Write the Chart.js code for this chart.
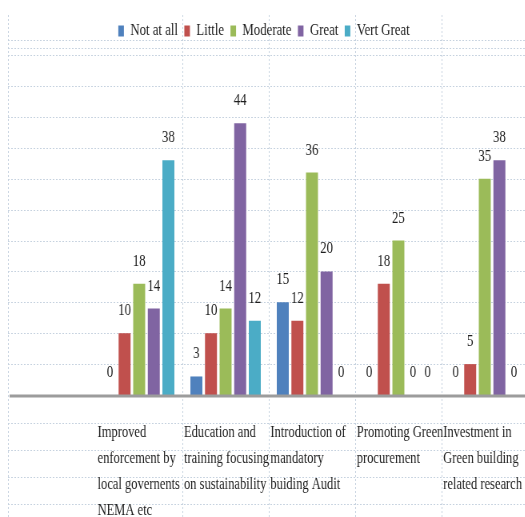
<!DOCTYPE html>
<html>
<head>
<meta charset="utf-8">
<title>Survey chart</title>
<script src="https://cdn.jsdelivr.net/npm/chart.js@4"></script>
<style>
  html, body { margin: 0; padding: 0; background: #fff; overflow: hidden; }
  #wrap { width: 525px; height: 517px; overflow: hidden; }
  /* the original picture is squeezed sideways, so draw it wide and squeeze it */
  #chart { transform: scaleX(0.8); transform-origin: 0 0; }
</style>
</head>
<body>
<div id="wrap"><canvas id="chart" width="660" height="517"></canvas></div>
<script>
// categories (multi-line, as in the source)
const categories = [
  ['Improved', 'enforcement by', 'local governents', 'NEMA etc'],
  ['Education and', 'training focusing', 'on sustainability'],
  ['Introduction of', 'mandatory', 'buiding Audit'],
  ['Promoting Green', 'procurement'],
  ['Investment in', 'Green building', 'related research']
];
const seriesNames = ['Not at all', 'Little', 'Moderate', 'Great', 'Vert Great'];
const notAtAll  = [0, 3, 15, 0, 0];
const little    = [10, 10, 12, 18, 5];
const moderate  = [18, 14, 36, 25, 35];
const great     = [14, 44, 20, 0, 38];
const vertGreat = [38, 12, 0, 0, 0];
const colors = ['#4F81BD', '#C0504D', '#9BBB59', '#8064A2', '#4BACC6'];
const yMax = 56;

const FONT = '"Liberation Serif", "Times New Roman", serif';
Chart.defaults.font.family = FONT;

function line(ctx, x1, y1, x2, y2) {
  ctx.beginPath();
  ctx.moveTo(x1, y1);
  ctx.lineTo(x2, y2);
  ctx.stroke();
}

// faint table rules behind the bars, axis line + labels on top
const tableLines = {
  id: 'tableLines',
  beforeDatasetsDraw(chart) {
    const { ctx, width, height, legend, scales: { x, y } } = chart;
    const y0 = y.getPixelForValue(0);
    ctx.save();
    ctx.strokeStyle = '#c6d2df';
    ctx.lineWidth = 1;
    ctx.setLineDash([2, 2]);
    for (let v = 5; v <= yMax; v += 5) {
      const py = Math.round(y.getPixelForValue(v)) + 0.5;
      line(ctx, 10, py, width, py);
    }
    // rules through the legend row
    line(ctx, 10, legend.bottom - 8.5, width, legend.bottom - 8.5);
    line(ctx, 10, legend.bottom - 0.5, width, legend.bottom - 0.5);
    // rules between the label rows
    for (let k = 0; k < 4; k++) {
      const py = Math.round(y0 + 28 + k * 27) + 0.5;
      line(ctx, 10, py, width, py);
    }
    // vertical separators between categories
    line(ctx, 10.5, 15, 10.5, height);
    for (let i = 1; i < categories.length; i++) {
      const px = Math.round((x.getPixelForValue(i - 1) + x.getPixelForValue(i)) / 2) + 0.5;
      line(ctx, px, 15, px, height);
    }
    ctx.restore();
  },
  afterDatasetsDraw(chart) {
    const { ctx, width, scales: { x, y } } = chart;
    const y0 = y.getPixelForValue(0);
    ctx.save();
    // thick grey baseline across the whole picture
    ctx.strokeStyle = '#9c9c9c';
    ctx.lineWidth = 3;
    line(ctx, 12, y0 + 1, width, y0 + 1);

    // value labels above every bar (zeros too)
    ctx.fillStyle = '#1e1e1e';
    ctx.font = '16px ' + FONT;
    ctx.textAlign = 'center';
    ctx.textBaseline = 'alphabetic';
    chart.data.datasets.forEach((ds, di) => {
      chart.getDatasetMeta(di).data.forEach((bar, i) => {
        ctx.fillText(String(ds.data[i]), bar.x, bar.y - 18);
      });
    });

    // category labels, left aligned at the start of each category
    const half = (x.getPixelForValue(1) - x.getPixelForValue(0)) / 2;
    ctx.font = '17px ' + FONT;
    ctx.textAlign = 'left';
    categories.forEach((rows, i) => {
      const left = x.getPixelForValue(i) - half + 2;
      rows.forEach((t, k) => {
        ctx.save();
        ctx.translate(left, y0 + 42 + k * 26);
        ctx.scale(0.92, 1);
        ctx.fillText(t, 0, 0);
        ctx.restore();
      });
    });
    ctx.restore();
  }
};

const seriesData = [notAtAll, little, moderate, great, vertGreat];

new Chart(document.getElementById('chart'), {
  type: 'bar',
  data: {
    labels: categories.map(c => c.join(' ')),
    datasets: seriesNames.map((name, i) => ({
      label: name,
      data: seriesData[i],
      backgroundColor: colors[i],
      borderWidth: 0,
      barPercentage: 0.82,
      categoryPercentage: 0.845
    }))
  },
  options: {
    responsive: false,
    animation: false,
    layout: { padding: { top: 15, left: 0, right: 0, bottom: 122 } },
    plugins: {
      legend: {
        position: 'top',
        labels: {
          boxWidth: 7,
          boxHeight: 11,
          padding: 8,
          color: '#1e1e1e',
          font: { family: FONT, size: 16 }
        }
      },
      tooltip: { enabled: false }
    },
    scales: {
      x: { display: false },
      y: {
        min: 0,
        max: yMax,
        ticks: { display: false },
        grid: { display: false },
        border: { display: false },
        afterFit(scale) { scale.width = 120; }
      }
    }
  },
  plugins: [tableLines]
});
</script>
</body>
</html>
